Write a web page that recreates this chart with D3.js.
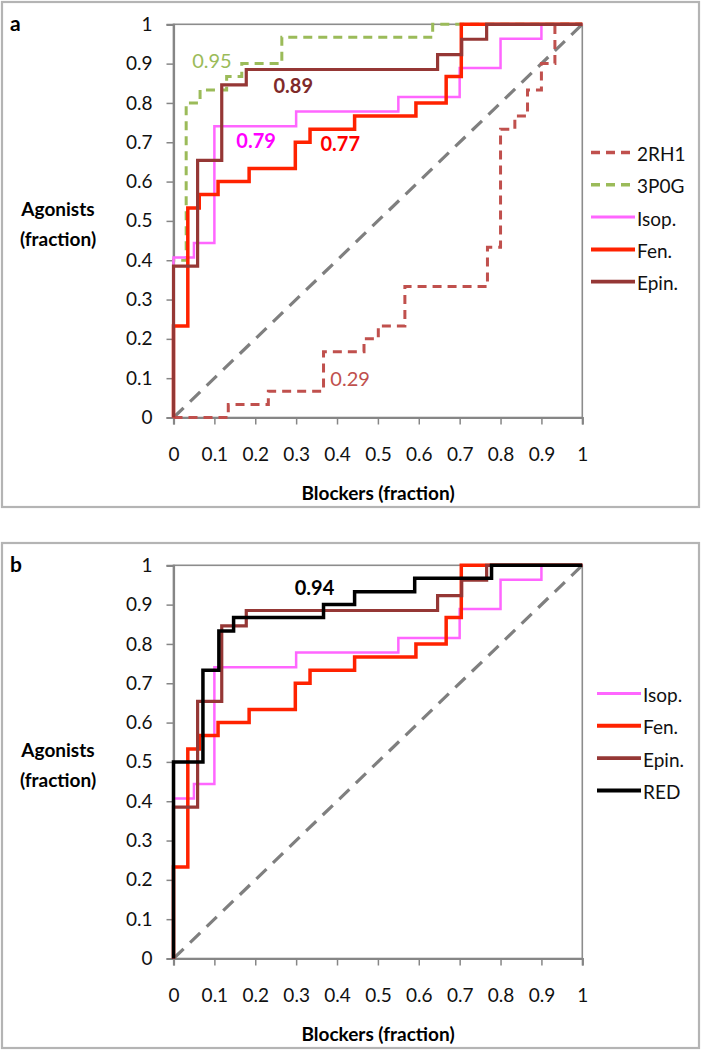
<!DOCTYPE html>
<html>
<head>
<meta charset="utf-8">
<script src="https://cdn.jsdelivr.net/npm/d3@7"></script>
<style>
	body { margin: 0; background: #fff; }
	svg text { font-family: Lato, "Open Sans", sans-serif; }
</style>
</head>
<body>
<svg id="chart" width="701" height="1050"></svg>
<script>
// ROC step curves: Agonists (fraction) vs Blockers (fraction)
//	Each curve: x = blocker fraction where step occurs, y = agonist level after step

var ticks = [0, 0.1, 0.2, 0.3, 0.4, 0.5, 0.6, 0.7, 0.8, 0.9, 1];
var tickLabels = ["0", "0.1", "0.2", "0.3", "0.4", "0.5", "0.6", "0.7", "0.8", "0.9", "1"];

var x2RH1 = [0, 0.134, 0.232, 0.367, 0.466, 0.501, 0.566, 0.768, 0.80, 0.835, 0.866, 0.90, 0.933, 1];
var y2RH1 = [0, 0.033, 0.067, 0.167, 0.2, 0.233, 0.333, 0.433, 0.733, 0.767, 0.833, 0.9, 1, 1];

var x3P0G = [0, 0, 0.031, 0.065, 0.13, 0.167, 0.265, 0.634, 1];
var y3P0G = [0, 0.4, 0.8, 0.833, 0.867, 0.9, 0.967, 1, 1];

var xIsop = [0, 0, 0.05, 0.1, 0.3, 0.55, 0.7, 0.8, 0.9, 1];
var yIsop = [0, 0.407, 0.444, 0.741, 0.778, 0.815, 0.889, 0.963, 1, 1];

var xFen = [0, 0, 0.035, 0.063, 0.109, 0.185, 0.298, 0.334, 0.443, 0.593, 0.667, 0.704, 1];
var yFen = [0, 0.233, 0.533, 0.567, 0.6, 0.633, 0.7, 0.733, 0.767, 0.8, 0.867, 1, 1];

var xEpin = [0, 0, 0.059, 0.118, 0.178, 0.646, 0.705, 0.766, 1];
var yEpin = [0, 0.385, 0.654, 0.846, 0.885, 0.923, 0.962, 1, 1];

var xRED = [0, 0, 0.072, 0.111, 0.147, 0.367, 0.443, 0.59, 0.778, 1];
var yRED = [0, 0.5, 0.733, 0.833, 0.867, 0.9, 0.933, 0.967, 1, 1];

	// AUC annotations: [text, x, y] in data units
var aucA = [["0.95", 0.094, 0.908], ["0.89", 0.293, 0.845], ["0.79", 0.202, 0.707],
			["0.77", 0.408, 0.697], ["0.29", 0.432, 0.1]];
var aucB = [["0.94", 0.345, 0.945]];

var svg = d3.select("#chart");

	// Series style table
var styles = {
	"2RH1":  { c: "#C0504D", w: 3, dash: "9,6", lbl: "#C0504D", bold: false },
	"3P0G":  { c: "#9BBB59", w: 3, dash: "9,6", lbl: "#9BBB59", bold: false },
	"Isop.": { c: "#FF66FF", w: 2.5, dash: null, lbl: "#FF00FF", bold: true },
	"Fen.":  { c: "#FF2200", w: 3.5, dash: null, lbl: "#FF0000", bold: true },
	"Epin.": { c: "#953735", w: 3.2, dash: null, lbl: "#7F2A2A", bold: true },
	"RED":   { c: "#000000", w: 3.5, dash: null, lbl: "#000000", bold: true }
};

function makeSeries(name, xs, ys)
{
	return { name: name, pts: xs.map(function(v, i) { return [v, ys[i]]; }) };
}

	// PURPOSE: Draw one panel
	//	oy = vertical offset of panel, series = list of curves, auc = annotations
function drawPanel(oy, letter, series, auc, lgX, aucColors)
{
	var g = svg.append("g").attr("transform", "translate(0," + oy + ")");

		// Panel frame
	g.append("rect").attr("x", 2).attr("y", 2).attr("width", 697).attr("height", 505)
		.attr("fill", "none").attr("stroke", "#B4B4B4").attr("stroke-width", 2.2);

	var x = d3.scaleLinear().domain([0, 1]).range([173.5, 582.3]);
	var y = d3.scaleLinear().domain([0, 1]).range([417.5, 24.3]);

		// Plot border (top/right)
	g.append("rect").attr("x", x(0)).attr("y", y(1)).attr("width", x(1) - x(0)).attr("height", y(0) - y(1))
		.attr("fill", "none").attr("stroke", "#8C8C8C").attr("stroke-width", 1.6);

	var yAxis = d3.axisLeft(y).tickValues(ticks).tickSize(7).tickPadding(14)
		.tickFormat(function(d, i) { return tickLabels[i]; });
	var xAxis = d3.axisBottom(x).tickValues(ticks).tickSize(7).tickPadding(23)
		.tickFormat(function(d, i) { return tickLabels[i]; });

	var ya = g.append("g").attr("transform", "translate(" + x(0) + ",0)").call(yAxis);
	var xa = g.append("g").attr("transform", "translate(0," + y(0) + ")").call(xAxis);
	[ya, xa].forEach(function(a) {
		a.select(".domain").attr("stroke", "#868686").attr("stroke-width", 2.2);
		a.selectAll(".tick line").attr("stroke", "#868686").attr("stroke-width", 1.5);
		a.selectAll(".tick text").attr("fill", "#111").style("font-size", "19px");
	});

		// Diagonal (random) line
	g.append("line").attr("x1", x(0)).attr("y1", y(0)).attr("x2", x(1)).attr("y2", y(1))
		.attr("stroke", "#7F7F7F").attr("stroke-width", 3.2).attr("stroke-dasharray", "14,9");

	var line = d3.line()
		.x(function(d) { return x(d[0]); })
		.y(function(d) { return y(d[1]); })
		.curve(d3.curveStepAfter);

	series.forEach(function(s) {
		var st = styles[s.name];
		g.append("path").datum(s.pts).attr("d", line)
			.attr("fill", "none").attr("stroke", st.c).attr("stroke-width", st.w)
			.attr("stroke-dasharray", st.dash);
	});

		// AUC annotations
	auc.forEach(function(a, i) {
		g.append("text").attr("x", x(a[1])).attr("y", y(a[2]))
			.attr("text-anchor", "middle").attr("dominant-baseline", "central")
			.attr("fill", aucColors[i].c).attr("font-weight", aucColors[i].b ? "bold" : "normal")
			.style("font-size", "20px").text(a[0]);
	});

		// Legend
	series.forEach(function(s, i) {
		var st = styles[s.name];
		var ly = lgX.y0 + i * 32.3;
		g.append("line").attr("x1", lgX.x0).attr("x2", lgX.x0 + 44).attr("y1", ly).attr("y2", ly)
			.attr("stroke", st.c).attr("stroke-width", st.w + 0.5).attr("stroke-dasharray", st.dash);
		g.append("text").attr("x", lgX.x0 + 46).attr("y", ly + 1).attr("dominant-baseline", "central")
			.attr("fill", "#111").style("font-size", "19px").text(s.name);
	});

		// Axis titles and panel letter
	g.append("text").attr("x", 378).attr("y", 492).attr("text-anchor", "middle")
		.attr("dominant-baseline", "central").attr("font-weight", "bold").style("font-size", "19px")
		.text("Blockers (fraction)");
	g.append("text").attr("x", 58).attr("y", 208).attr("text-anchor", "middle")
		.attr("dominant-baseline", "central").attr("font-weight", "bold").style("font-size", "19px")
		.text("Agonists");
	g.append("text").attr("x", 58).attr("y", 238).attr("text-anchor", "middle")
		.attr("dominant-baseline", "central").attr("font-weight", "bold").style("font-size", "19px")
		.text("(fraction)");
	g.append("text").attr("x", 10).attr("y", 22).attr("dominant-baseline", "central")
		.attr("font-weight", "bold").style("font-size", "21px").text(letter);
}

drawPanel(0, "a",
	[makeSeries("2RH1", x2RH1, y2RH1), makeSeries("3P0G", x3P0G, y3P0G),
	 makeSeries("Isop.", xIsop, yIsop), makeSeries("Fen.", xFen, yFen), makeSeries("Epin.", xEpin, yEpin)],
	aucA, { x0: 591, y0: 152.5 },
	[{ c: "#9BBB59", b: false }, { c: "#7F2A2A", b: true }, { c: "#FF00FF", b: true },
	 { c: "#FF0000", b: true }, { c: "#C0504D", b: false }]);

drawPanel(541, "b",
	[makeSeries("Isop.", xIsop, yIsop), makeSeries("Fen.", xFen, yFen),
	 makeSeries("Epin.", xEpin, yEpin), makeSeries("RED", xRED, yRED)],
	aucB, { x0: 597, y0: 152.5 },
	[{ c: "#000000", b: true }]);
</script>
</body>
</html>
